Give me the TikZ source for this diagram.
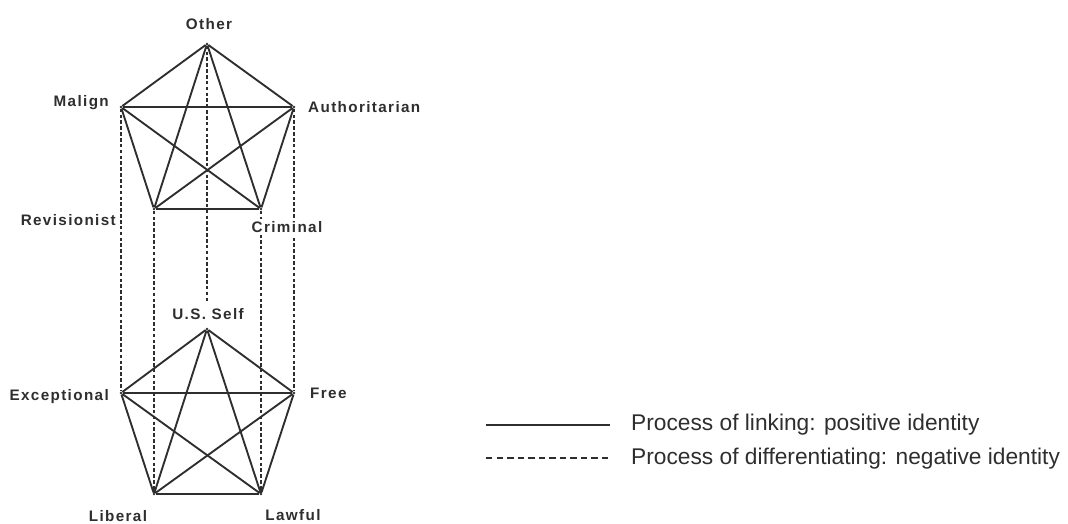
\documentclass[tikz,border=0pt]{standalone}
\usepackage{fontspec}
\setmainfont{Liberation Sans}
\newfontfamily\lblfont[LetterSpace=9]{Liberation Sans}
\definecolor{ink}{HTML}{2E2E2E}
\tikzset{
  vtx/.style={circle, fill=ink, inner sep=0pt, minimum size=2.5pt},
  lbl/.style={font=\lblfont\bfseries\fontsize{13}{15}\selectfont, text=ink, inner sep=0pt},
  legtext/.style={font=\fontsize{19.4}{22}\selectfont, text=ink, inner sep=0pt, anchor=west},
  link/.style={draw=ink, line width=1.6pt},
  diff/.style={draw=ink, line width=1.3pt, dash pattern=on 3pt off 2pt},
  legdiff/.style={draw=ink, line width=1.3pt, dash pattern=on 5.5pt off 3.5pt}
}
\begin{document}
\begin{tikzpicture}[x=0.03cm, y=-0.03cm]
    \useasboundingbox (0,0) rectangle (1068,523);

    % Other
    \node[vtx] (O) at (207, 44) {};
    \node[vtx] (M) at (121, 107) {};
    \node[vtx] (A) at (294, 107) {};
    \node[vtx] (R) at (154, 209) {};
    \node[vtx] (C) at (261, 209) {};

    % U.S. Self
    \node[vtx] (S) at (207, 329) {};
    \node[vtx] (E) at (121, 393) {};
    \node[vtx] (F) at (294, 393) {};
    \node[vtx] (L) at (154, 494) {};
    \node[vtx] (W) at (261, 494) {};
    \coordinate (Oend) at (207, 302);

    % linking
    \foreach \a/\b in {O/M, O/A, O/R, O/C, M/A, M/R, M/C, A/R, A/C, R/C,
                       S/E, S/F, S/L, S/W, E/F, E/L, E/W, F/L, F/W, L/W}
      \draw[link] (\a) -- (\b);

    % differentiating
    \draw[diff] (O) -- (Oend);
    \foreach \a/\b in {M/E, A/F, R/L, C/W}
      \draw[diff] (\a) -- (\b);

    % labels
    \node[lbl] (Olab) at (209, 24) {Other};
    \node[lbl, anchor=east] (Mlab) at (109, 103) {Malign};
    \node[lbl, anchor=west] (Alab) at (308, 107) {Authoritarian};
    \node[lbl, anchor=east] (Rlab) at (116, 220) {Revisionist};
    \node[lbl, fill=white, inner ysep=2pt] (Clab) at (287, 227) {Criminal};
    \node[lbl] (Slab) at (208, 314) {U.S. Self};
    \node[lbl, anchor=east] (Elab) at (109, 397) {Exceptional};
    \node[lbl, anchor=west] (Flab) at (310, 393) {Free};
    \node[lbl] (Llab) at (118, 516) {Liberal};
    \node[lbl] (Wlab) at (293, 515) {Lawful};

    % legend
    \coordinate (k1) at (486, 425);
    \coordinate (k2) at (610, 425);
    \coordinate (k3) at (486, 458);
    \coordinate (k4) at (610, 458);
    \draw[link] (k1) -- (k2);
    \draw[legdiff] (k3) -- (k4);
    \node[legtext] (t1) at (631, 425) {Process of linking: positive identity};
    \node[legtext] (t2) at (631, 459) {Process of differentiating: negative identity};
\end{tikzpicture}
\end{document}
